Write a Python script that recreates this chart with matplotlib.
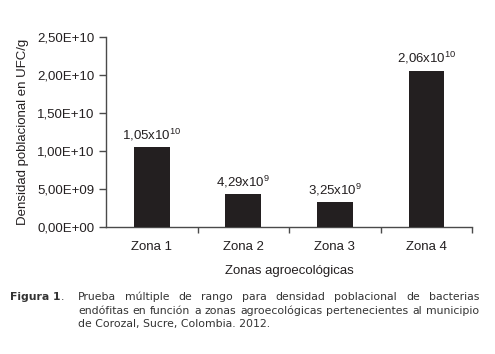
import matplotlib.pyplot as plt
from matplotlib.ticker import FixedLocator, FuncFormatter

plt.rcParams['font.family'] = ['Liberation Sans', 'DejaVu Sans']
plt.rcParams['mathtext.default'] = 'regular'

# data
zonas = ['Zona 1', 'Zona 2', 'Zona 3', 'Zona 4']
densidad = [1.05e10, 4.29e9, 3.25e9, 2.06e10]
etiquetas = ['1,05x10$^{10}$', '4,29x10$^{9}$', '3,25x10$^{9}$', '2,06x10$^{10}$']
y_ticks = [0, 5e9, 1e10, 1.5e10, 2e10, 2.5e10]

caption_lines = [
    'Prueba múltiple de rango para densidad poblacional de bacterias',
    'endófitas en función a zonas agroecológicas pertenecientes al municipio',
    'de Corozal, Sucre, Colombia. 2012.',
]

ink = '#231f20'
axis_col = '#4a4a4a'

fig = plt.figure(figsize=(4.95, 3.54), dpi=100)
ax = fig.add_axes([0.214, 0.359, 0.74, 0.536])

x = list(range(len(zonas)))
ax.bar(x, densidad, width=0.39, color=ink, zorder=3)

for xi, v, lab in zip(x, densidad, etiquetas):
    ax.text(xi, v + 0.06e10, lab, ha='center', va='bottom', fontsize=9.5, color=ink)

ax.set_xlim(-0.5, 3.5)
ax.set_ylim(0, 2.5e10)
ax.set_yticks(y_ticks)
ax.yaxis.set_major_formatter(FuncFormatter(lambda v, p: f'{v:.2E}'.replace('.', ',')))
ax.set_xticks(x)
ax.set_xticklabels(zonas)
ax.xaxis.set_minor_locator(FixedLocator([0.5, 1.5, 2.5, 3.5]))

ax.tick_params(axis='x', which='major', length=0, pad=10, labelsize=9.5, labelcolor=ink)
ax.tick_params(axis='x', which='minor', length=4, width=1, color=axis_col, direction='out')
ax.tick_params(axis='y', length=5, width=1, color=axis_col, direction='out',
               labelsize=9.5, labelcolor=ink, pad=3)

for s in ['top', 'right']:
    ax.spines[s].set_visible(False)
for s in ['left', 'bottom']:
    ax.spines[s].set_color(axis_col)
    ax.spines[s].set_linewidth(1)

ax.set_ylabel('Densidad poblacional en UFC/g', fontsize=9.5, color=ink, labelpad=6)
ax.set_xlabel('Zonas agroecológicas', fontsize=9.5, color=ink, labelpad=9)

# caption, first two lines justified like the original
cap_font = dict(family='DejaVu Sans', fontsize=7.8, color='#333333')
fig.canvas.draw()
renderer = fig.canvas.get_renderer()

fig_lab = fig.text(10 / 495, 1 - 297 / 354, 'Figura 1', fontweight='bold', va='center', **cap_font)
fw = fig_lab.get_window_extent(renderer).width
fig.text((10 + fw) / 495, 1 - 297 / 354, '.', va='center', **cap_font)

x0, x1 = 78, 479
line_y = [297, 311, 324]
for i, line in enumerate(caption_lines):
    yf = 1 - line_y[i] / 354
    words = line.split(' ')
    if i == len(caption_lines) - 1:
        fig.text(x0 / 495, yf, line, va='center', **cap_font)
        continue
    widths = []
    texts = []
    for w in words:
        t = fig.text(0, yf, w, va='center', **cap_font)
        widths.append(t.get_window_extent(renderer).width)
        texts.append(t)
    gap = (x1 - x0 - sum(widths)) / (len(words) - 1)
    pos = x0
    for t, w in zip(texts, widths):
        t.set_x(pos / 495)
        pos += w + gap

fig.savefig('out.png', dpi=100)
